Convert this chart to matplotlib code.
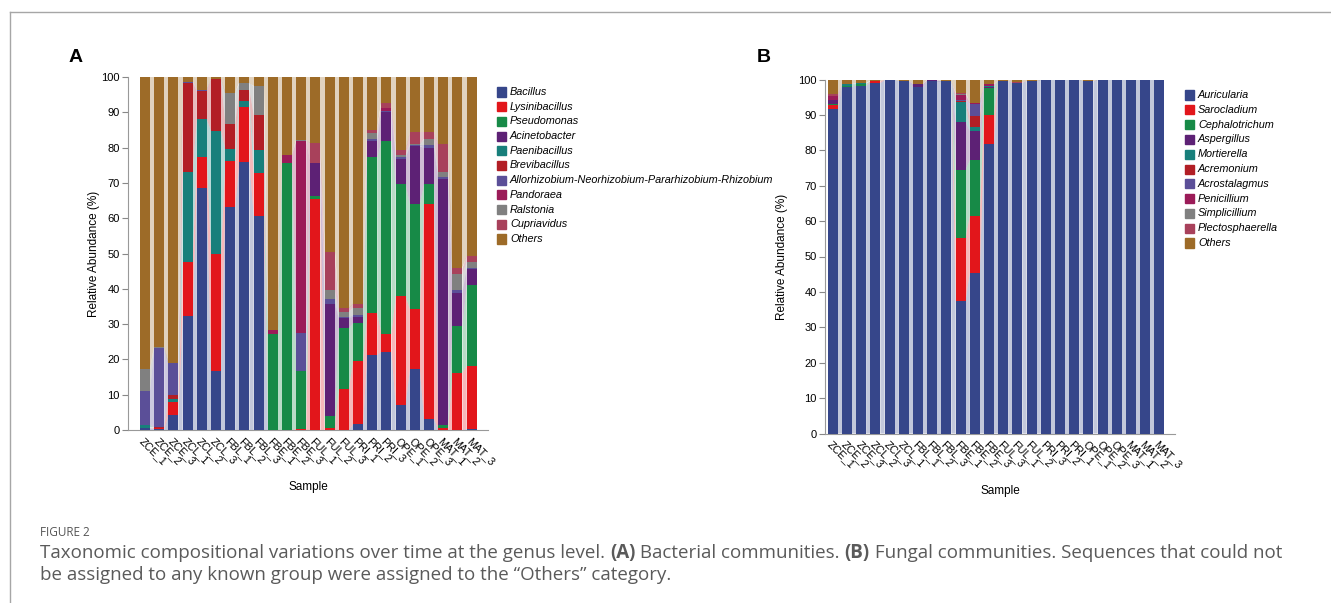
import matplotlib
matplotlib.use('Agg')
import matplotlib.pyplot as plt
from matplotlib.patches import Rectangle
from matplotlib.lines import Line2D
import numpy as np

plt.rcParams['font.family'] = ['Liberation Sans', 'DejaVu Sans']

# ---------------- data ----------------
samples_a = ['ZCE_1', 'ZCE_2', 'ZCE_3', 'ZCL_1', 'ZCL_2', 'ZCL_3', 'FBL_1', 'FBL_2', 'FBL_3',
             'FBE_1', 'FBE_2', 'FBE_3', 'FUL_1', 'FUL_2', 'FUL_3', 'PRI_1', 'PRI_2', 'PRI_3',
             'OPE_1', 'OPE_2', 'OPE_3', 'MAT_1', 'MAT_2', 'MAT_3']
samples_b = ['ZCE_1', 'ZCE_2', 'ZCE_3', 'ZCL_2', 'ZCL_3', 'ZCL_1', 'FBL_1', 'FBL_2', 'FBL_3',
             'FBE_1', 'FBE_2', 'FBE_3', 'FUL_3', 'FUL_1', 'FUL_2', 'PRI_3', 'PRI_2', 'PRI_1',
             'OPE_1', 'OPE_2', 'OPE_3', 'MAT_1', 'MAT_2', 'MAT_3']

genera_a = ['Bacillus', 'Lysinibacillus', 'Pseudomonas', 'Acinetobacter', 'Paenibacillus',
            'Brevibacillus', 'Allorhizobium-Neorhizobium-Pararhizobium-Rhizobium', 'Pandoraea',
            'Ralstonia', 'Cupriavidus', 'Others']
genera_b = ['Auricularia', 'Sarocladium', 'Cephalotrichum', 'Aspergillus', 'Mortierella',
            'Acremonium', 'Acrostalagmus', 'Penicillium', 'Simplicillium', 'Plectosphaerella', 'Others']

# bacterial genera (%), one list per genus, samples in order of samples_a
bacillus       = [0.5, 0.2, 4.2, 32.4, 68.6, 16.8, 63.1, 75.9, 60.7, 0, 0, 0, 0, 0, 0, 1.6, 21.2, 22.2, 7.1, 17.2, 3.1, 0, 0, 0.3]
lysinibacillus = [0.2, 0.5, 3.8, 15.2, 8.6, 33.0, 13.0, 15.6, 12.1, 0, 0, 0.3, 65.3, 0.7, 11.5, 17.9, 12.0, 5.0, 30.8, 17.0, 60.9, 0.5, 16.2, 17.9]
pseudomonas    = [0, 0, 0, 0, 0, 0, 0, 0, 0, 27.2, 75.7, 16.4, 0.9, 3.4, 17.3, 10.7, 44.0, 54.6, 31.7, 29.8, 5.6, 0.9, 13.2, 22.8]
acinetobacter  = [0, 0, 0, 0, 0, 0, 0, 0, 0, 0, 0, 0, 9.5, 31.7, 2.8, 1.9, 4.7, 8.3, 7.3, 16.4, 10.3, 69.6, 9.3, 4.6]
paenibacillus  = [0.8, 0, 0.8, 25.5, 10.8, 34.8, 3.6, 1.6, 6.4, 0, 0, 0, 0, 0, 0, 0, 0, 0, 0, 0, 0, 0, 0, 0]
brevibacillus  = [0, 0.2, 1.1, 25.3, 8.0, 14.9, 7.1, 3.3, 10.1, 0, 0, 0, 0, 0, 0, 0, 0, 0, 0, 0, 0, 0, 0, 0]
allorhizobium  = [9.6, 22.2, 9.0, 0.3, 0.4, 0, 0, 0, 0, 0, 0, 10.8, 0, 1.2, 0.4, 0.4, 0.6, 0.3, 0.5, 0.3, 0.8, 0.7, 0.9, 0.4]
pandoraea      = [0, 0, 0, 0, 0, 0, 0, 0, 0, 1.1, 2.3, 54.3, 0, 0, 0, 0, 0, 0.8, 0, 0, 0, 0, 0, 0]
ralstonia      = [6.1, 0.5, 0, 0, 0, 0, 8.8, 1.9, 8.1, 0, 0, 0.3, 0, 2.8, 1.5, 2.2, 1.5, 0, 0.5, 0.4, 1.6, 1.4, 4.6, 1.6]
cupriavidus    = [0, 0, 0, 0, 0, 0, 0, 0, 0, 0, 0, 0, 5.6, 10.7, 1.1, 1.1, 1.1, 1.5, 1.3, 3.3, 2.1, 7.8, 1.6, 1.7]
others_a       = [82.8, 76.4, 81.1, 1.3, 3.6, 0.5, 4.4, 1.7, 2.6, 71.7, 22.0, 17.9, 18.7, 49.5, 65.4, 64.2, 14.9, 7.3, 20.8, 15.6, 15.6, 19.1, 54.2, 50.7]

# fungal genera (%), samples in order of samples_b
auricularia      = [91.6, 98.0, 98.3, 99.0, 99.9, 99.6, 97.8, 99.5, 99.5, 37.4, 45.4, 81.7, 99.6, 99.0, 99.6, 100, 100, 100, 99.5, 100, 100, 100, 100, 100]
sarocladium      = [1.1, 0, 0, 0.5, 0, 0, 0, 0, 0, 17.7, 16.1, 8.2, 0, 0, 0, 0, 0, 0, 0, 0, 0, 0, 0, 0]
cephalotrichum   = [0.4, 0.3, 0.3, 0, 0, 0, 0, 0, 0, 19.3, 15.7, 7.6, 0, 0, 0, 0, 0, 0, 0, 0, 0, 0, 0, 0]
aspergillus      = [1.0, 0, 0, 0, 0, 0, 0.9, 0.3, 0, 13.6, 8.3, 0.3, 0, 0, 0, 0, 0, 0, 0, 0, 0, 0, 0, 0]
mortierella      = [0, 0.4, 0.3, 0, 0, 0, 0, 0, 0, 5.7, 1.1, 0.4, 0, 0, 0, 0, 0, 0, 0, 0, 0, 0, 0, 0]
acremonium       = [0, 0, 0, 0, 0, 0, 0, 0, 0, 0.3, 3.1, 0, 0, 0, 0, 0, 0, 0, 0, 0, 0, 0, 0, 0]
acrostalagmus    = [0, 0, 0, 0, 0, 0, 0, 0, 0, 0.2, 3.5, 0, 0, 0, 0, 0, 0, 0, 0, 0, 0, 0, 0, 0]
penicillium      = [1.3, 0, 0, 0, 0, 0, 0, 0, 0, 1.5, 0.3, 0.4, 0, 0, 0, 0, 0, 0, 0, 0, 0, 0, 0, 0]
simplicillium    = [0, 0, 0, 0, 0, 0, 0, 0, 0, 0.2, 0, 0, 0, 0, 0, 0, 0, 0, 0, 0, 0, 0, 0, 0]
plectosphaerella = [0.5, 0, 0, 0, 0, 0, 0, 0, 0, 0.3, 0, 0, 0, 0.3, 0, 0, 0, 0, 0, 0, 0, 0, 0, 0]
others_b         = [4.1, 1.3, 1.1, 0.5, 0.1, 0.4, 1.3, 0.2, 0.5, 3.8, 6.5, 1.4, 0.4, 0.7, 0.4, 0, 0, 0, 0.5, 0, 0, 0, 0, 0]

colors = ['#36468a', '#e2161b', '#178a47', '#5d2175', '#187f7b', '#b21e25',
          '#5b4f98', '#9b1b58', '#808080', '#a8415b', '#9d6b28']

bact = [bacillus, lysinibacillus, pseudomonas, acinetobacter, paenibacillus, brevibacillus,
        allorhizobium, pandoraea, ralstonia, cupriavidus, others_a]
fung = [auricularia, sarocladium, cephalotrichum, aspergillus, mortierella, acremonium,
        acrostalagmus, penicillium, simplicillium, plectosphaerella, others_b]

W, H = 1331, 603
fig = plt.figure(figsize=(W / 100, H / 100), dpi=100)

def fx(px):
    return px / W

def fy(py):
    return 1 - py / H

# frame around the figure panel
fig.add_artist(Line2D([fx(10), 1], [fy(12), fy(12)], color='#a6a6a6', lw=1))
fig.add_artist(Line2D([fx(10), fx(10)], [fy(12), 0], color='#a6a6a6', lw=1))

bw = 0.7

def stacked(ax, series, labels, xlim, ypad):
    x = np.arange(len(labels))
    data = np.array(series, dtype=float)
    bottoms = np.vstack([np.zeros(len(labels)), np.cumsum(data, axis=0)[:-1]])
    tops = bottoms + data
    # faint bands joining neighbouring bars
    for k in range(data.shape[0]):
        for i in range(len(x) - 1):
            xs = [x[i] + bw / 2, x[i] + bw / 2, x[i + 1] - bw / 2, x[i + 1] - bw / 2]
            ys = [bottoms[k, i], tops[k, i], tops[k, i + 1], bottoms[k, i + 1]]
            ax.fill(xs, ys, color=colors[k], alpha=0.3, lw=0)
    for k in range(data.shape[0]):
        ax.bar(x, data[k], bw, bottom=bottoms[k], color=colors[k], lw=0, zorder=3)
    ax.set_xlim(*xlim)
    ax.set_ylim(0, 100)
    ax.set_yticks(np.arange(0, 101, 10))
    ax.set_xticks(x)
    ax.set_xticklabels(labels, rotation=-45, ha='left', va='top', rotation_mode='anchor', fontsize=7.8)
    ax.tick_params(axis='y', labelsize=8, length=4, width=0.8, color='#888888', pad=2)
    ax.tick_params(axis='x', length=0, pad=4)
    for s in ['top', 'right']:
        ax.spines[s].set_visible(False)
    for s in ['left', 'bottom']:
        ax.spines[s].set_color('#999999')
        ax.spines[s].set_linewidth(0.8)
    ax.set_ylabel('Relative Abundance (%)', fontsize=8.5, labelpad=ypad)
    ax.set_xlabel('Sample', fontsize=8.5, labelpad=10)

ax_a = fig.add_axes([fx(128), fy(430), fx(488 - 128), (430 - 77) / H])
stacked(ax_a, bact, samples_a, (-1.2, 24.15), 1)

ax_b = fig.add_axes([fx(825), fy(433.5), fx(1175 - 825), (433.5 - 79.5) / H])
stacked(ax_b, fung, samples_b, (-0.55, 24.1), 7)

fig.text(fx(76), fy(58), 'A', fontsize=14, fontweight='bold', ha='center', va='center')
fig.text(fx(764), fy(58), 'B', fontsize=14, fontweight='bold', ha='center', va='center')

def legend(x0, y0, step, names):
    for k, name in enumerate(names):
        y = y0 + k * step
        fig.add_artist(Rectangle((fx(x0), fy(y + 4.5)), fx(9), 9 / H, color=colors[k]))
        fig.text(fx(x0 + 13), fy(y), name, fontsize=7.8, style='italic', va='center', ha='left')

legend(497, 92, 14.7, genera_a)
legend(1185, 95, 14.8, genera_b)

# caption
cap_font = ['Open Sans', 'DejaVu Sans']
fig.text(fx(40), fy(532), 'FIGURE 2', fontsize=8.5, color='#555555', family=cap_font, va='center')

fig.canvas.draw()
renderer = fig.canvas.get_renderer()

def rich_line(x_px, y_px, parts):
    x = x_px
    for txt, bold in parts:
        t = fig.text(fx(x), fy(y_px), txt, fontsize=13.5, color='#5a5a5a', family=cap_font,
                     fontweight='bold' if bold else 'normal', va='center', ha='left')
        bb = t.get_window_extent(renderer=renderer)
        x += bb.width

rich_line(40, 553, [('Taxonomic compositional variations over time at the genus level. ', False),
                    ('(A)', True), (' Bacterial communities. ', False), ('(B)', True),
                    (' Fungal communities. Sequences that could not', False)])
rich_line(40, 575, [('be assigned to any known group were assigned to the \u201cOthers\u201d category.', False)])

fig.savefig('out.png', dpi=100)
